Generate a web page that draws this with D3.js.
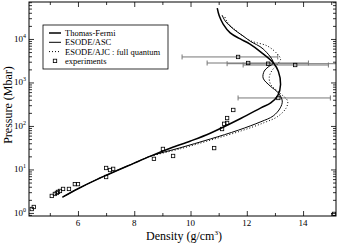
<!DOCTYPE html>
<html>
<head>
<meta charset="utf-8">
<script src="https://cdn.jsdelivr.net/npm/d3@7"></script>
<style>
  body { margin: 0; background: #fff; }
  svg { display: block; font-family: "Liberation Serif", "DejaVu Serif", serif; }
</style>
</head>
<body>
<div id="chart"></div>
<script>
// density (g/cm3), pressure (Mbar)
var thomasFermi = [
  [5.45, 2.3], [6.0, 3.6], [6.7, 6.0], [8.0, 14], [8.6, 20.5], [9.3, 31], [10.0, 45],
  [10.7, 68], [11.8, 150], [12.5, 260], [12.85, 340], [13.1, 500], [13.2, 900],
  [13.12, 1800], [12.95, 2800], [12.5, 5000], [12.1, 7700], [11.77, 10000],
  [11.41, 13800], [11.16, 22000], [11.02, 34000], [10.95, 51000]
];
var esodeAsc = [
  [5.45, 2.3], [6.0, 3.6], [6.7, 6.0], [8.0, 14], [8.6, 20.5], [9.6, 31], [10.7, 50],
  [11.7, 80], [12.5, 125], [12.94, 170], [13.19, 260], [13.26, 375], [13.12, 575],
  [12.83, 830], [12.58, 1260], [12.62, 1830], [12.76, 2270], [12.94, 2800],
  [12.58, 5900], [12.12, 8900], [11.87, 11700], [11.52, 17000], [11.23, 26000], [11.12, 35600]
];
var esodeAjc = [
  [8.6, 20.5], [9.65, 30], [10.75, 48], [11.8, 77], [12.6, 118], [13.1, 165],
  [13.4, 260], [13.45, 375], [13.19, 560], [12.85, 900], [12.8, 1350], [12.9, 1900],
  [13.08, 2600], [13.2, 3400], [13.08, 4550], [12.73, 6900], [12.12, 9200],
  [11.6, 16000], [11.3, 25000], [11.2, 35000]
];
var experiments = [
  [4.36, 1.23], [4.43, 1.37], [5.07, 2.46], [5.18, 2.73], [5.25, 2.88], [5.29, 3.04],
  [5.36, 3.2], [5.47, 3.56], [5.68, 3.56], [5.89, 4.6], [6.0, 4.6],
  [7.0, 10.8], [7.0, 6.7], [7.14, 9.7], [7.25, 10.3], [8.7, 17.5], [9.02, 29.6],
  [9.38, 20.4], [10.84, 31], [11.12, 85], [11.2, 112], [11.3, 117], [11.3, 152],
  [11.52, 233], [15.1, 0.95]
];
// points with horizontal error bars: density, pressure, low, high
var errPoints = [
  [11.69, 3860, 9.7, 13.1],
  [12.05, 2800, 10.59, 14.19],
  [12.76, 2700, 11.3, 15.3],
  [13.72, 2520, 11.87, 14.9],
  [13.12, 440, 11.69, 14.97]
];
var xMajor = [6, 8, 10, 12, 14];
var xMinor = [5, 7, 9, 11, 13, 15];
var yMajor = [1, 10, 100, 1000, 10000];
var yExp = ['0', '1', '2', '3', '4'];
var legendItems = ['Thomas-Fermi', 'ESODE/ASC', 'ESODE/AJC : full quantum', 'experiments'];

var W = 338, H = 245;
var m = {l: 29, r: 336, t: 2, b: 216};

var svg = d3.select('#chart').append('svg')
  .attr('width', W).attr('height', H);

var x = d3.scaleLinear().domain([4.26, 15.17]).range([m.l, m.r]);
var y = d3.scaleLog().domain([0.85, 70800]).range([m.b, m.t]);

var yMinor = [];
yMajor.forEach(function(d) {
  for (var k = 2; k <= 9; k++) if (d * k < 70800) yMinor.push(d * k);
});
yMinor.push(0.9);

var plot = svg.append('g');
plot.append('clipPath').attr('id', 'clip')
  .append('rect').attr('x', m.l).attr('y', m.t)
  .attr('width', m.r - m.l).attr('height', m.b - m.t);

var body = plot.append('g').attr('clip-path', 'url(#clip)');

var line = d3.line()
  .x(function(d) { return x(d[0]); })
  .y(function(d) { return y(d[1]); })
  .curve(d3.curveCatmullRom.alpha(0.5));

// error bars
var eb = body.selectAll('.eb').data(errPoints).enter().append('g').attr('class', 'eb');
eb.append('line')
  .attr('x1', function(d) { return x(d[2]); })
  .attr('x2', function(d) { return x(d[3]); })
  .attr('y1', function(d) { return y(d[1]); })
  .attr('y2', function(d) { return y(d[1]); })
  .attr('stroke', '#777').attr('stroke-width', 1);
eb.selectAll('.cap').data(function(d) { return [[d[2], d[1]], [d[3], d[1]]]; })
  .enter().append('line')
  .attr('x1', function(d) { return x(d[0]); })
  .attr('x2', function(d) { return x(d[0]); })
  .attr('y1', function(d) { return y(d[1]) - 2.5; })
  .attr('y2', function(d) { return y(d[1]) + 2.5; })
  .attr('stroke', '#777').attr('stroke-width', 1);

body.append('path').datum(esodeAjc)
  .attr('d', line).attr('fill', 'none')
  .attr('stroke', '#000').attr('stroke-width', 1).attr('stroke-dasharray', '1,2');
body.append('path').datum(esodeAsc)
  .attr('d', line).attr('fill', 'none')
  .attr('stroke', '#000').attr('stroke-width', 1);
body.append('path').datum(thomasFermi)
  .attr('d', line).attr('fill', 'none')
  .attr('stroke', '#000').attr('stroke-width', 1.5);

var sq = 3.4;
body.selectAll('.exp').data(experiments.concat(errPoints)).enter().append('rect')
  .attr('x', function(d) { return x(d[0]) - sq / 2; })
  .attr('y', function(d) { return y(d[1]) - sq / 2; })
  .attr('width', sq).attr('height', sq)
  .attr('fill', 'none').attr('stroke', '#000').attr('stroke-width', 0.8);

// frame
plot.append('rect').attr('x', m.l).attr('y', m.t)
  .attr('width', m.r - m.l).attr('height', m.b - m.t)
  .attr('fill', 'none').attr('stroke', '#000').attr('stroke-width', 1);

function noDomain(g) { g.select('.domain').remove(); g.selectAll('text').remove(); }

// inward ticks on all four sides
svg.append('g').attr('transform', 'translate(0,' + m.b + ')')
  .call(d3.axisBottom(x).tickValues(xMajor).tickSize(-5)).call(noDomain);
svg.append('g').attr('transform', 'translate(0,' + m.b + ')')
  .call(d3.axisBottom(x).tickValues(xMinor).tickSize(-3)).call(noDomain);
svg.append('g').attr('transform', 'translate(0,' + m.t + ')')
  .call(d3.axisTop(x).tickValues(xMajor).tickSize(-5)).call(noDomain);
svg.append('g').attr('transform', 'translate(0,' + m.t + ')')
  .call(d3.axisTop(x).tickValues(xMinor).tickSize(-3)).call(noDomain);
svg.append('g').attr('transform', 'translate(' + m.l + ',0)')
  .call(d3.axisLeft(y).tickValues(yMajor).tickSize(-5)).call(noDomain);
svg.append('g').attr('transform', 'translate(' + m.l + ',0)')
  .call(d3.axisLeft(y).tickValues(yMinor).tickSize(-3)).call(noDomain);
svg.append('g').attr('transform', 'translate(' + m.r + ',0)')
  .call(d3.axisRight(y).tickValues(yMajor).tickSize(-5)).call(noDomain);
svg.append('g').attr('transform', 'translate(' + m.r + ',0)')
  .call(d3.axisRight(y).tickValues(yMinor).tickSize(-3)).call(noDomain);
svg.selectAll('.tick line').attr('stroke', '#000').attr('stroke-width', 0.8);

// tick labels
svg.selectAll('.xlab').data(xMajor).enter().append('text')
  .attr('x', function(d) { return x(d); }).attr('y', m.b + 10)
  .attr('text-anchor', 'middle').attr('font-size', 9).text(function(d) { return d; });

var yl = svg.selectAll('.ylab').data(yMajor).enter().append('text')
  .attr('x', m.l - 3).attr('y', function(d) { return y(d) + 3; })
  .attr('text-anchor', 'end').attr('font-size', 9);
yl.append('tspan').text('10');
yl.append('tspan').attr('dy', -4).attr('font-size', 6)
  .text(function(d, i) { return yExp[i]; });

// axis titles
svg.append('text').attr('transform', 'translate(11.5,105)rotate(-90)')
  .attr('text-anchor', 'middle').attr('font-size', 12).text('Pressure (Mbar)');
var xt = svg.append('text').attr('x', 184).attr('y', 240)
  .attr('text-anchor', 'middle').attr('font-size', 12);
xt.append('tspan').text('Density (g/cm');
xt.append('tspan').attr('dy', -5).attr('font-size', 7).text('3');
xt.append('tspan').attr('dy', 5).text(')');

// legend
var lg = svg.append('g').attr('transform', 'translate(43,25)');
lg.append('rect').attr('width', 125).attr('height', 44)
  .attr('fill', '#fff').attr('stroke', '#000').attr('stroke-width', 0.8);
var li = lg.selectAll('.li').data(legendItems).enter().append('g')
  .attr('transform', function(d, i) { return 'translate(0,' + (8 + i * 9.3) + ')'; });
li.append('text').attr('x', 22).attr('y', 3).attr('font-size', 8.5).text(function(d) { return d; });
li.filter(function(d, i) { return i < 3; }).append('line')
  .attr('x1', 6).attr('x2', 18).attr('y1', 0).attr('y2', 0)
  .attr('stroke', '#000')
  .attr('stroke-width', function(d, i) { return i === 0 ? 1.5 : 1; })
  .attr('stroke-dasharray', function(d, i) { return i === 2 ? '1,2' : null; });
li.filter(function(d, i) { return i === 3; }).append('rect')
  .attr('x', 10.3).attr('y', -1.7).attr('width', sq).attr('height', sq)
  .attr('fill', 'none').attr('stroke', '#000').attr('stroke-width', 0.8);
</script>
</body>
</html>
